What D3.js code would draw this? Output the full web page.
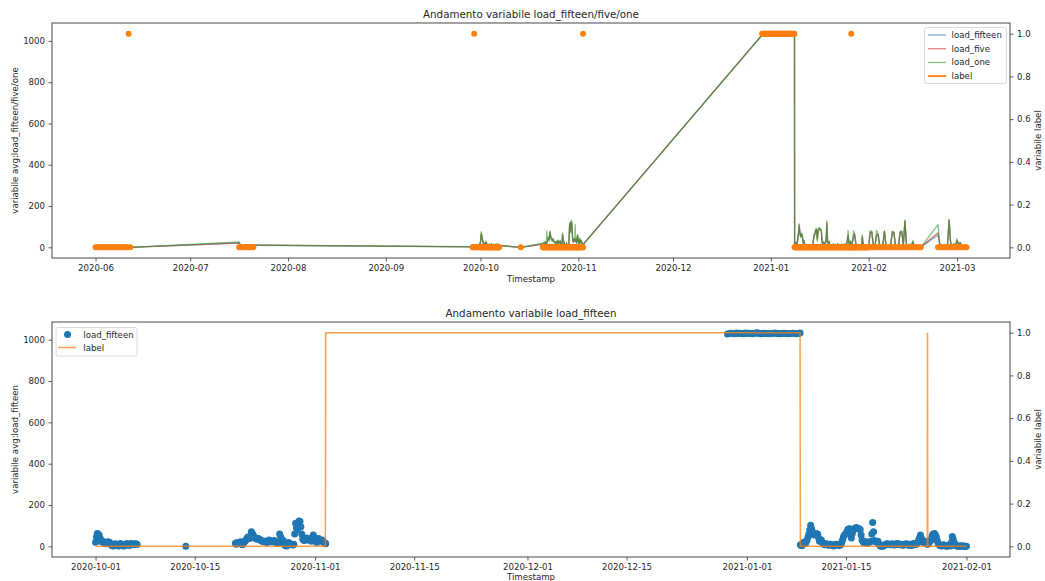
<!DOCTYPE html>
<html><head><meta charset="utf-8">
<script src="https://cdn.jsdelivr.net/npm/d3@7"></script>
<style>
body{margin:0;background:#fff}
svg text{font-family:"DejaVu Sans",sans-serif;fill:#262626}
</style></head>
<body><svg id="c" width="1045" height="581"></svg>
<script>
// ---------------- DATA ----------------
const times = [
// June
"20-06-01 00","20-06-01 12","20-06-02 00","20-06-02 12","20-06-03 00","20-06-03 12","20-06-04 00","20-06-04 12","20-06-05 00","20-06-05 12","20-06-06 00","20-06-06 12","20-06-07 00","20-06-07 12","20-06-08 00","20-06-08 12","20-06-09 00","20-06-09 12","20-06-10 00","20-06-10 12","20-06-11 00","20-06-11 12","20-06-12 00",
// July
"20-07-16 12","20-07-17 00","20-07-17 12","20-07-18 00","20-07-18 12","20-07-19 00","20-07-19 12","20-07-20 00","20-07-20 12","20-07-21 00",
// end of September
"20-09-28 12","20-09-28 18","20-09-29 00","20-09-29 06","20-09-29 12","20-09-29 18","20-09-30 00","20-09-30 06","20-09-30 12","20-09-30 18",
// October 1-6
"20-10-01 00","20-10-01 03","20-10-01 06","20-10-01 09","20-10-01 12","20-10-01 15","20-10-01 18","20-10-01 21",
"20-10-02 00","20-10-02 03","20-10-02 06","20-10-02 09","20-10-02 12","20-10-02 15","20-10-02 18","20-10-02 21",
"20-10-03 00","20-10-03 03","20-10-03 06","20-10-03 09","20-10-03 12","20-10-03 15","20-10-03 18","20-10-03 21",
"20-10-04 00","20-10-04 03","20-10-04 06","20-10-04 09","20-10-04 12","20-10-04 15","20-10-04 18","20-10-04 21",
"20-10-05 00","20-10-05 03","20-10-05 06","20-10-05 09","20-10-05 12","20-10-05 15","20-10-05 18","20-10-05 21",
"20-10-06 00","20-10-06 03","20-10-06 06","20-10-06 09","20-10-06 12","20-10-06 15","20-10-06 18","20-10-06 21",
// October 13
"20-10-13 18",
// October 20 - November 2
"20-10-20 18","20-10-20 21",
"20-10-21 00","20-10-21 03","20-10-21 06","20-10-21 09","20-10-21 12","20-10-21 15","20-10-21 18","20-10-21 21",
"20-10-22 00","20-10-22 03","20-10-22 06","20-10-22 09","20-10-22 12","20-10-22 15","20-10-22 18","20-10-22 21",
"20-10-23 00","20-10-23 03","20-10-23 06","20-10-23 09","20-10-23 12","20-10-23 15","20-10-23 18","20-10-23 21",
"20-10-24 00","20-10-24 03","20-10-24 06","20-10-24 09","20-10-24 12","20-10-24 15","20-10-24 18","20-10-24 21",
"20-10-25 00","20-10-25 03","20-10-25 06","20-10-25 09","20-10-25 12","20-10-25 15","20-10-25 18","20-10-25 21",
"20-10-26 00","20-10-26 03","20-10-26 06","20-10-26 09","20-10-26 12","20-10-26 15","20-10-26 18","20-10-26 21",
"20-10-27 00","20-10-27 03","20-10-27 06","20-10-27 09","20-10-27 12","20-10-27 15","20-10-27 18","20-10-27 21",
"20-10-28 00","20-10-28 03","20-10-28 06","20-10-28 09","20-10-28 12","20-10-28 15","20-10-28 18","20-10-28 21",
"20-10-29 00","20-10-29 03","20-10-29 06","20-10-29 09","20-10-29 12","20-10-29 15","20-10-29 18","20-10-29 21",
"20-10-30 00","20-10-30 03","20-10-30 06","20-10-30 09","20-10-30 12","20-10-30 15","20-10-30 18","20-10-30 21",
"20-10-31 00","20-10-31 03","20-10-31 06","20-10-31 09","20-10-31 12","20-10-31 15","20-10-31 18","20-10-31 21",
"20-11-01 00","20-11-01 03","20-11-01 06","20-11-01 09","20-11-01 12","20-11-01 15","20-11-01 18","20-11-01 21",
"20-11-02 00","20-11-02 03","20-11-02 06","20-11-02 09","20-11-02 11","20-11-02 12",
// December 29 - January 8
"20-12-29 06","20-12-29 12","20-12-29 18",
"20-12-30 00","20-12-30 06","20-12-30 12","20-12-30 18","20-12-31 00","20-12-31 06","20-12-31 12","20-12-31 18",
"21-01-01 00","21-01-01 06","21-01-01 12","21-01-01 18","21-01-02 00","21-01-02 06","21-01-02 12","21-01-02 18","21-01-03 00","21-01-03 06","21-01-03 12","21-01-03 18",
"21-01-04 00","21-01-04 06","21-01-04 12","21-01-04 18","21-01-05 00","21-01-05 06","21-01-05 12","21-01-05 18","21-01-06 00","21-01-06 06","21-01-06 12","21-01-06 18",
"21-01-07 00","21-01-07 06","21-01-07 12","21-01-07 18",
"21-01-08 00","21-01-08 06","21-01-08 12",
// January 8 - February 1
"21-01-08 13","21-01-08 15","21-01-08 18","21-01-08 21",
"21-01-09 00","21-01-09 03","21-01-09 06","21-01-09 09","21-01-09 12","21-01-09 15","21-01-09 18","21-01-09 21",
"21-01-10 00","21-01-10 03","21-01-10 06","21-01-10 09","21-01-10 12","21-01-10 15","21-01-10 18","21-01-10 21",
"21-01-11 00","21-01-11 03","21-01-11 06","21-01-11 09","21-01-11 12","21-01-11 15","21-01-11 18","21-01-11 21",
"21-01-12 00","21-01-12 03","21-01-12 06","21-01-12 09","21-01-12 12","21-01-12 15","21-01-12 18","21-01-12 21",
"21-01-13 00","21-01-13 03","21-01-13 06","21-01-13 09","21-01-13 12","21-01-13 15","21-01-13 18","21-01-13 21",
"21-01-14 00","21-01-14 03","21-01-14 06","21-01-14 09","21-01-14 12","21-01-14 15","21-01-14 18","21-01-14 21",
"21-01-15 00","21-01-15 03","21-01-15 06","21-01-15 09","21-01-15 12","21-01-15 15","21-01-15 18","21-01-15 21",
"21-01-16 00","21-01-16 03","21-01-16 06","21-01-16 09","21-01-16 12","21-01-16 15","21-01-16 18","21-01-16 21",
"21-01-17 00","21-01-17 03","21-01-17 06","21-01-17 09","21-01-17 12","21-01-17 15","21-01-17 18","21-01-17 21",
"21-01-18 00","21-01-18 03","21-01-18 06","21-01-18 09","21-01-18 12","21-01-18 15","21-01-18 18","21-01-18 21",
"21-01-19 00","21-01-19 03","21-01-19 06","21-01-19 09","21-01-19 12","21-01-19 15","21-01-19 18","21-01-19 21",
"21-01-20 00","21-01-20 03","21-01-20 06","21-01-20 09","21-01-20 12","21-01-20 15","21-01-20 18","21-01-20 21",
"21-01-21 00","21-01-21 03","21-01-21 06","21-01-21 09","21-01-21 12","21-01-21 15","21-01-21 18","21-01-21 21",
"21-01-22 00","21-01-22 03","21-01-22 06","21-01-22 09","21-01-22 12","21-01-22 15","21-01-22 18","21-01-22 21",
"21-01-23 00","21-01-23 03","21-01-23 06","21-01-23 09","21-01-23 12","21-01-23 15","21-01-23 18","21-01-23 21",
"21-01-24 00","21-01-24 03","21-01-24 06","21-01-24 09","21-01-24 12","21-01-24 15","21-01-24 18","21-01-24 21",
"21-01-25 00","21-01-25 03","21-01-25 06","21-01-25 09","21-01-25 12","21-01-25 15","21-01-25 18","21-01-25 21",
"21-01-26 00","21-01-26 03","21-01-26 06","21-01-26 09","21-01-26 11","21-01-26 12","21-01-26 13","21-01-26 15","21-01-26 18","21-01-26 21",
"21-01-27 00","21-01-27 03","21-01-27 06","21-01-27 09","21-01-27 12","21-01-27 15","21-01-27 18","21-01-27 21",
"21-01-28 00","21-01-28 03","21-01-28 06","21-01-28 09","21-01-28 12","21-01-28 15","21-01-28 18","21-01-28 21",
"21-01-29 00","21-01-29 03","21-01-29 06","21-01-29 09","21-01-29 12","21-01-29 15","21-01-29 18","21-01-29 21",
"21-01-30 00","21-01-30 03","21-01-30 06","21-01-30 09","21-01-30 12","21-01-30 15","21-01-30 18","21-01-30 21",
"21-01-31 00","21-01-31 03","21-01-31 06","21-01-31 09","21-01-31 12","21-01-31 15","21-01-31 18","21-01-31 21",
"21-02-01 00",
// February 1 - 17
"21-02-01 12",
"21-02-02 00","21-02-02 12","21-02-03 00","21-02-03 12","21-02-04 00","21-02-04 12","21-02-05 00","21-02-05 12","21-02-06 00","21-02-06 12","21-02-07 00","21-02-07 12",
"21-02-08 00","21-02-08 12","21-02-09 00","21-02-09 12","21-02-10 00","21-02-10 12","21-02-11 00","21-02-11 12","21-02-12 00","21-02-12 12","21-02-13 00","21-02-13 12",
"21-02-14 00","21-02-14 12","21-02-15 00","21-02-15 12","21-02-16 00","21-02-16 12","21-02-17 00","21-02-17 12",
// February 23 - March 4
"21-02-23 00","21-02-23 12","21-02-24 00","21-02-24 12","21-02-25 00","21-02-25 12","21-02-26 00","21-02-26 12","21-02-27 00","21-02-27 12","21-02-28 00","21-02-28 12",
"21-03-01 00","21-03-01 12","21-03-02 00","21-03-02 12","21-03-03 00","21-03-03 12","21-03-04 00"
];

const loadFifteen = [
// June
1,1,2,1,0,1,2,1,1,0,1,2,1,1,0,1,2,1,1,2,1,1,0,
// July
21,9,7,8,10,9,11,10,9,10,
// Sep
2,3,5,4,3,6,4,8,10,15,
// Oct 1-6
20,45,62,58,55,40,30,22, 24,18,20,14,12,16,22,20, 18,10,6,3,2,8,12,10,
9,4,1,6,14,10,6,3, 2,5,10,12,13,8,4,6, 14,12,9,10,8,13,11,9,
// Oct 13
0,
// Oct 20 - Nov 2
15,10,
18,14,12,20,22,12,8,14, 20,26,30,38,45,42,38,50, 70,62,55,48,42,38,35,36, 38,34,30,28,26,24,22,24,
25,20,18,26,30,28,24,22, 22,26,28,22,20,16,15,18, 60,48,35,30,28,14,5,3, 2,10,18,14,12,9,8,6,
10,60,112,90,80,110,122,120, 95,60,35,30,28,34,40,36, 30,34,38,30,25,40,55,42, 32,24,18,28,38,30,25,28,
30,24,20,16,12,14,
// Dec 29 - Jan 8
1028,1030,1031, 1030,1029,1032,1030, 1031,1030,1029,1033, 1030,1031,1030,1029, 1030,1032,1034,1030, 1029,1030,1031,1030, 1030,1029,1030,1031, 1032,1030,1029,1030, 1030,1031,1030,1029, 1030,1030,1031,1030, 1029,1030,1032,
// Jan 8 - Feb 1
8,5,3,12,
20,15,12,22,30,45,60,80, 102,85,70,60,55,58,62,60, 58,40,25,28,30,20,12,10, 8,10,12,8,5,7,10,9,
6,4,2,5,10,9,8,6, 4,6,8,18,30,45,55,58, 62,72,82,84,85,60,40,62, 78,84,88,90,90,88,86,84,
80,55,30,24,18,20,22,18, 15,18,20,22,25,60,115,70, 28,24,22,20,25,12,5,2, 0,1,2,5,8,10,12,11,
10,9,8,10,12,9,6,8, 10,12,14,11,8,9,10,8, 5,7,8,10,12,9,6,5, 10,7,4,9,14,11,8,10,
12,20,30,42,55,40,25,20, 18,22,25,18,12,10,11,14,20,26, 30,45,58,60,62,55,45,28,
15,8,4,3,2,5,8,5, 3,1,0,3,6,4,2,20, 48,35,20,10,4,2,1,0, 0,1,2,1,1,0,0,0,
0,
// Feb 1 - 17
70, 72,10, 5,55, 60,8, 4,10, 75,12, 6,8, 10,72, 70,10, 8,12, 70,74, 12,125, 10,8, 12,6, 25,4, 2,3, 2,1,
// Feb 23 - Mar 4
60,20, 8,5, 10,6, 12,130, 20,10, 15,8, 30,15, 20,10, 5,3, 2
];

const loadFive = [
1,2,2,1,0,1,3,1,1,0,2,2,1,1,0,1,2,1,2,2,1,1,0,
22,10,8,8,11,9,12,10,9,11,
2,4,5,4,3,7,4,9,11,16,
25,52,68,60,48,36,26,24, 22,16,18,12,10,18,25,22, 15,9,5,4,3,9,14,11,
8,3,2,7,16,11,5,3, 3,6,12,11,11,7,5,6, 16,11,8,11,9,14,12,10,
0,
16,11,
20,15,10,22,25,14,7,15, 22,28,32,40,48,44,36,52, 75,64,52,46,40,36,33,35, 40,33,28,27,25,23,20,23,
27,19,16,28,32,27,22,21, 24,28,30,21,18,15,14,17, 64,46,32,28,25,12,4,3, 2,12,20,13,11,8,7,5,
12,64,115,88,78,112,125,122, 92,58,33,28,26,36,42,38, 28,36,40,28,22,42,58,44, 34,22,16,30,40,28,23,29,
32,22,18,14,10,13,
1029,1031,1030, 1031,1028,1033,1029, 1030,1031,1028,1034, 1031,1030,1029,1030, 1031,1033,1033,1029, 1030,1031,1030,1029, 1031,1030,1029,1032, 1031,1029,1030,1031, 1029,1032,1031,1030, 1031,1029,1030,1031, 1030,1031,1031,
9,6,4,13,
22,16,10,25,34,50,66,84, 108,88,66,58,52,60,65,62, 55,38,22,30,33,18,10,9, 7,11,14,7,4,8,11,10,
5,3,1,6,12,8,7,5, 3,5,9,20,34,48,60,62, 66,76,85,86,88,56,36,64, 80,85,90,92,92,86,84,82,
82,52,26,22,16,21,24,17, 13,19,22,24,28,64,120,66, 26,22,20,21,27,10,4,1, 0,2,3,6,9,12,14,12,
11,8,7,11,14,8,5,8, 12,13,16,10,7,10,11,7, 4,8,9,11,14,8,5,4, 12,6,3,10,16,10,7,11,
14,24,34,46,60,38,22,19, 16,24,28,16,10,9,10,15,22,28, 34,48,62,64,65,52,42,25,
13,7,3,2,1,6,9,4, 2,1,0,4,7,3,1,24, 52,32,18,9,3,2,1,0, 0,1,3,1,1,0,0,0,
0,
74, 75,8, 4,60, 64,6, 3,12, 78,10, 5,9, 12,75, 72,8, 7,14, 74,76, 10,128, 9,7, 14,5, 28,3, 2,4, 1,1,
70,18, 7,4, 12,5, 14,132, 18,9, 16,7, 34,13, 22,9, 4,3, 2
];

const loadOne = [
2,2,3,0,0,2,4,1,0,0,2,3,1,1,0,2,3,1,2,3,1,2,0,
26,8,9,7,13,8,14,9,10,11,
3,4,6,3,4,8,5,10,12,18,
30,60,76,52,40,30,22,28, 26,12,15,10,8,20,30,24, 12,6,4,2,2,12,18,9,
6,2,1,9,20,8,4,2, 2,8,15,10,9,5,3,7, 18,9,7,12,10,16,14,8,
0,
20,9,
24,16,8,26,30,10,5,18, 80,34,38,44,52,40,30,58, 78,60,48,40,36,32,28,34, 44,30,24,26,22,20,16,22,
30,16,12,32,36,24,18,20, 26,32,34,18,14,12,10,16, 70,40,28,22,20,8,3,2, 1,14,24,12,9,6,5,4,
14,70,120,82,72,118,130,126, 88,52,30,24,24,40,45,40, 110,40,44,24,18,46,62,48, 36,18,12,34,44,24,20,30,
35,20,15,10,8,12,
1030,1032,1029, 1033,1027,1034,1028, 1029,1032,1027,1035, 1032,1029,1028,1031, 1032,1034,1032,1028, 1031,1032,1029,1028, 1032,1031,1028,1033, 1030,1028,1031,1032, 1028,1033,1032,1031, 1032,1028,1029,1032, 1031,1032,1030,
10,4,2,16,
26,12,8,30,38,58,75,90, 114,80,60,52,48,64,70,58, 50,32,18,34,36,14,8,6, 5,14,16,5,3,10,12,12,
4,2,0,8,14,6,6,4, 2,4,10,24,40,56,68,66, 70,82,90,92,92,50,30,70, 84,88,94,96,95,84,82,80,
86,46,20,18,14,24,28,14, 10,22,25,28,32,72,128,60, 24,18,18,24,30,8,3,0, 0,3,4,8,10,14,18,12,
12,6,6,14,16,6,4,9, 14,16,20,8,6,12,12,6, 3,10,10,12,16,6,4,3, 14,4,2,12,18,8,6,12,
16,28,40,56,82,34,18,16, 14,28,32,12,8,6,9,18,24,32, 38,56,80,72,70,48,38,20,
10,5,2,1,0,8,10,2, 1,0,0,6,8,2,0,30, 60,28,15,6,2,1,0,0, 0,2,4,0,0,0,0,0,
0,
80, 78,6, 3,82, 68,4, 2,14, 80,8, 4,10, 14,78, 74,6, 6,16, 78,80, 8,132, 8,6, 16,4, 32,2, 1,5, 1,0,
110,16, 6,3, 14,4, 16,135, 16,8, 18,6, 42,12, 24,8, 3,2, 1
];

const labels = [
// June
0,0,0,0,0,0,0,0,0,0,0,0,0,0,0,0,0,0,0,0,0,1,0,
// July
0,0,0,0,0,0,0,0,0,0,
// Sep
0,0,1,0,0,0,0,0,0,0,
// Oct 1-6
0,0,0,0,0,0,0,0, 0,0,0,0,0,0,0,0, 0,0,0,0,0,0,0,0, 0,0,0,0,0,0,0,0, 0,0,0,0,0,0,0,0, 0,0,0,0,0,0,0,0,
// Oct 13
0,
// Oct 20 - Nov 2
0,0,
0,0,0,0,0,0,0,0, 0,0,0,0,0,0,0,0, 0,0,0,0,0,0,0,0, 0,0,0,0,0,0,0,0,
0,0,0,0,0,0,0,0, 0,0,0,0,0,0,0,0, 0,0,0,0,0,0,0,0, 0,0,0,0,0,0,0,0,
0,0,0,0,0,0,0,0, 0,0,0,0,0,0,0,0, 0,0,0,0,0,0,0,0, 0,0,0,0,0,0,0,0,
0,0,0,0,0,1,
// Dec 29 - Jan 8
1,1,1, 1,1,1,1, 1,1,1,1, 1,1,1,1, 1,1,1,1, 1,1,1,1, 1,1,1,1, 1,1,1,1, 1,1,1,1, 1,1,1,1, 1,1,1,
// Jan 8 - Feb 1
0,0,0,0,
0,0,0,0,0,0,0,0, 0,0,0,0,0,0,0,0, 0,0,0,0,0,0,0,0, 0,0,0,0,0,0,0,0,
0,0,0,0,0,0,0,0, 0,0,0,0,0,0,0,0, 0,0,0,0,0,0,0,0, 0,0,0,0,0,0,0,0,
0,0,0,0,0,0,0,0, 0,0,0,0,0,0,0,0, 0,0,0,0,0,0,0,0, 0,0,0,0,0,0,0,0,
0,0,0,0,0,0,0,0, 0,0,0,0,0,0,0,0, 0,0,0,0,0,0,0,0, 0,0,0,0,0,0,0,0,
0,0,0,0,0,0,0,0, 0,0,0,0,0,1,0,0,0,0, 0,0,0,0,0,0,0,0,
0,0,0,0,0,0,0,0, 0,0,0,0,0,0,0,0, 0,0,0,0,0,0,0,0, 0,0,0,0,0,0,0,0,
0,
// Feb 1 - 17
0, 0,0, 0,0, 0,0, 0,0, 0,0, 0,0, 0,0, 0,0, 0,0, 0,0, 0,0, 0,0, 0,0, 0,0, 0,0, 0,0,
// Feb 23 - Mar 4
0,0, 0,0, 0,0, 0,0, 0,0, 0,0, 0,0, 0,0, 0,0, 0
];

const topXTicks = ["2020-06","2020-07","2020-08","2020-09","2020-10","2020-11","2020-12","2021-01","2021-02","2021-03"];
const bottomXTicks = ["2020-10-01","2020-10-15","2020-11-01","2020-11-15","2020-12-01","2020-12-15","2021-01-01","2021-01-15","2021-02-01"];
const loadTicks = [0,200,400,600,800,1000];
const labelTicks = [0,0.2,0.4,0.6,0.8,1.0];
const bottomRange = ["20-10-01 00","21-02-01 00"];

// ---------------- DRAWING ----------------
const svg = d3.select("#c");
const parseT = d3.timeParse("%y-%m-%d %H");
const T = times.map(parseT);
const rows = T.map((t,i)=>({t, f:loadFifteen[i], v:loadFive[i], o:loadOne[i], l:labels[i]}));

if (![loadFifteen,loadFive,loadOne,labels].every(a=>a.length===times.length)) {
  svg.append("text").attr("x",300).attr("y",300).style("fill","red").style("font-size","20px")
    .text("len "+[times.length,loadFifteen.length,loadFive.length,loadOne.length,labels.length].join(","));
}

const C = {blue:"#1f77b4", red:"#d62728", green:"#2ca02c", orange:"#ff7f0e"};
const FS = 8.6;
function pad(ext, f=0.05){const s=(+ext[1])-(+ext[0]); return [(+ext[0])-s*f, (+ext[1])+s*f];}

function axes(g, P, x, yL, yR, xTickDates, xFmt) {
  const bx = g.append("g").attr("transform",`translate(0,${P.b})`)
    .call(d3.axisBottom(x).tickValues(xTickDates).tickFormat(xFmt).tickSize(3.5).tickPadding(3.5));
  const ly = g.append("g").attr("transform",`translate(${P.l},0)`)
    .call(d3.axisLeft(yL).tickValues(loadTicks).tickFormat(d3.format("d")).tickSize(3.5).tickPadding(3.5));
  const ry = g.append("g").attr("transform",`translate(${P.r},0)`)
    .call(d3.axisRight(yR).tickValues(labelTicks).tickFormat(d3.format(".1f")).tickSize(3.5).tickPadding(3.5));
  [bx,ly,ry].forEach(a=>{
    a.select(".domain").remove();
    a.selectAll(".tick line").attr("stroke","#333").attr("stroke-width",0.8);
    a.selectAll(".tick text").style("font-size",FS+"px").style("font-family","DejaVu Sans, sans-serif").attr("fill","#262626");
  });
  g.append("rect").attr("x",P.l).attr("y",P.t).attr("width",P.r-P.l).attr("height",P.b-P.t)
    .attr("fill","none").attr("stroke","#333").attr("stroke-width",0.9);
}

function labelsText(P, title, ylab, xlabY) {
  const cx = (P.l+P.r)/2, cy = (P.t+P.b)/2;
  svg.append("text").attr("x",cx).attr("y",P.t-5).attr("text-anchor","middle").style("font-size","10.3px").text(title);
  svg.append("text").attr("transform",`translate(18,${cy}) rotate(-90)`).attr("text-anchor","middle").style("font-size",FS+"px").text(ylab);
  svg.append("text").attr("transform",`translate(1041,${cy}) rotate(-90)`).attr("text-anchor","middle").style("font-size",FS+"px").text("variabile label");
  svg.append("text").attr("x",cx).attr("y",xlabY).attr("text-anchor","middle").style("font-size",FS+"px").text("Timestamp");
}

// ---- Top chart ----
{
  const P = {l:52, r:1010, t:23, b:258};
  const g = svg.append("g");
  const x = d3.scaleTime().domain(pad(d3.extent(T)).map(v=>new Date(v))).range([P.l,P.r]);
  const yMax = d3.max([...loadFifteen,...loadFive,...loadOne]);
  const y = d3.scaleLinear().domain(pad([0,yMax])).range([P.b,P.t]);
  const yr = d3.scaleLinear().domain(pad([0,1])).range([P.b,P.t]);
  const series = [["f",C.blue],["v",C.red],["o",C.green]];
  series.forEach(([k,col])=>{
    g.append("path").datum(rows).attr("fill","none").attr("stroke",col).attr("stroke-opacity",0.6)
      .attr("stroke-width",1.3).attr("stroke-linejoin","round")
      .attr("d", d3.line().x(d=>x(d.t)).y(d=>y(d[k])));
  });
  g.append("g").selectAll("circle").data(rows).join("circle")
    .attr("cx",d=>x(d.t)).attr("cy",d=>yr(d.l)).attr("r",3).attr("fill",C.orange);
  axes(g, P, x, y, yr, topXTicks.map(d3.timeParse("%Y-%m")), d3.timeFormat("%Y-%m"));
  labelsText(P, "Andamento variabile load_fifteen/five/one", "variabile avg:load_fifteen/five/one", 282);
  const L = g.append("g");
  L.append("rect").attr("x",924.5).attr("y",27.5).attr("width",82).attr("height",56).attr("rx",2)
    .attr("fill","#fff").attr("fill-opacity",0.8).attr("stroke","#d0d0d0").attr("stroke-width",0.8);
  const items = [["load_fifteen",C.blue,0.6,1.3],["load_five",C.red,0.6,1.3],["load_one",C.green,0.6,1.3],["label",C.orange,1,1.8]];
  items.forEach(([name,col,op,w],i)=>{
    const yy = 35 + i*13.7;
    L.append("line").attr("x1",928).attr("x2",946).attr("y1",yy).attr("y2",yy)
      .attr("stroke",col).attr("stroke-opacity",op).attr("stroke-width",w);
    L.append("text").attr("x",951.5).attr("y",yy).attr("dy","0.35em").style("font-size",FS+"px").text(name);
  });
}

// ---- Bottom chart ----
{
  const P = {l:52, r:1010, t:322, b:557};
  const g = svg.append("g");
  const lo = parseT(bottomRange[0]), hi = parseT(bottomRange[1]);
  const R = rows.filter(d=>d.t>=lo && d.t<=hi);
  const x = d3.scaleTime().domain(pad(d3.extent(R,d=>d.t)).map(v=>new Date(v))).range([P.l,P.r]);
  const y = d3.scaleLinear().domain(pad([0,d3.max(R,d=>d.f)])).range([P.b,P.t]);
  const yr = d3.scaleLinear().domain(pad([0,1])).range([P.b,P.t]);
  g.append("g").selectAll("circle").data(R).join("circle")
    .attr("cx",d=>x(d.t)).attr("cy",d=>y(d.f)).attr("r",3.5).attr("fill",C.blue);
  g.append("path").datum(R).attr("fill","none").attr("stroke",C.orange).attr("stroke-opacity",0.75)
    .attr("stroke-width",1.5).attr("d", d3.line().x(d=>x(d.t)).y(d=>yr(d.l)));
  axes(g, P, x, y, yr, bottomXTicks.map(d3.timeParse("%Y-%m-%d")), d3.timeFormat("%Y-%m-%d"));
  labelsText(P, "Andamento variabile load_fifteen", "variabile avg:load_fifteen", 580);
  const L = g.append("g");
  L.append("rect").attr("x",56).attr("y",327.5).attr("width",81).attr("height",28.5).attr("rx",2)
    .attr("fill","#fff").attr("fill-opacity",0.8).attr("stroke","#d0d0d0").attr("stroke-width",0.8);
  L.append("circle").attr("cx",67.5).attr("cy",334.5).attr("r",3.5).attr("fill",C.blue);
  L.append("text").attr("x",83.3).attr("y",334.5).attr("dy","0.35em").style("font-size",FS+"px").text("load_fifteen");
  L.append("line").attr("x1",58).attr("x2",76).attr("y1",347.5).attr("y2",347.5)
    .attr("stroke",C.orange).attr("stroke-opacity",0.75).attr("stroke-width",1.5);
  L.append("text").attr("x",83.3).attr("y",347.5).attr("dy","0.35em").style("font-size",FS+"px").text("label");
}
</script>
</body></html>
